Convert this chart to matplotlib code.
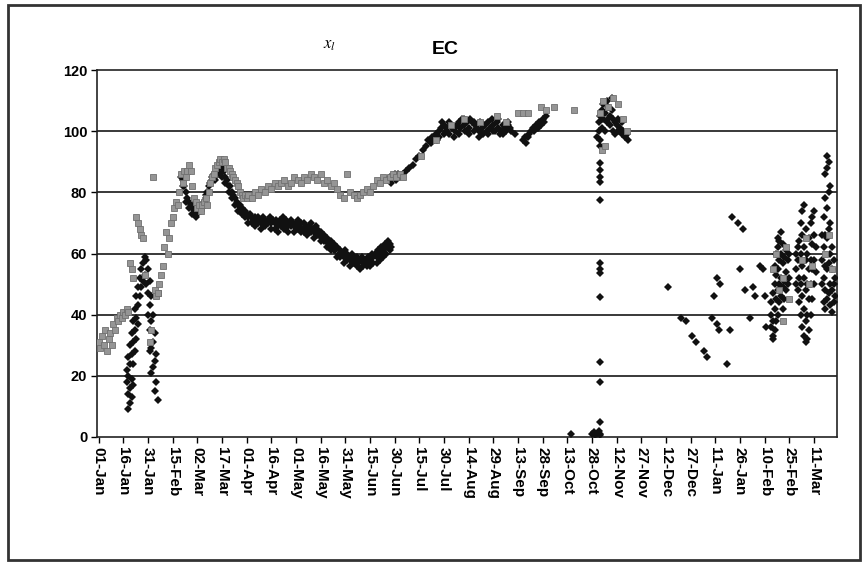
import matplotlib
matplotlib.use('Agg')
import matplotlib.pyplot as plt
from matplotlib.patches import Rectangle

plt.rcParams['font.family'] = ['Liberation Sans', 'DejaVu Sans']
plt.rcParams['mathtext.fontset'] = 'stix'

# x values are days counted from 01-Jan
tick_labels = ['01-Jan', '16-Jan', '31-Jan', '15-Feb', '02-Mar', '17-Mar', '01-Apr',
               '16-Apr', '01-May', '16-May', '31-May', '15-Jun', '30-Jun', '15-Jul',
               '30-Jul', '14-Aug', '29-Aug', '13-Sep', '28-Sep', '13-Oct', '28-Oct',
               '12-Nov', '27-Nov', '12-Dec', '27-Dec', '11-Jan', '26-Jan', '10-Feb',
               '25-Feb', '11-Mar']
y_ticks = [0, 20, 40, 60, 80, 100, 120]

# black series
black_jan_day = [17, 17, 18, 18, 18, 18, 19, 19, 19, 19, 20, 20, 20, 20, 21, 21, 21, 21,
                 22, 22, 22, 23, 23, 23, 24, 24, 24, 25, 25, 26, 26, 27, 27, 28, 28, 29,
                 29, 30, 30, 30, 31, 31, 31, 31, 32, 32, 32, 32, 33, 33, 33, 34, 34, 34,
                 35, 35, 36]
black_jan_val = [22, 18, 26, 20, 14, 9, 30, 24, 16, 11, 34, 27, 19, 13, 38, 31, 24, 17,
                 42, 35, 28, 46, 39, 32, 49, 43, 37, 52, 46, 55, 49, 57, 51, 59, 53, 58,
                 50, 55, 47, 40, 51, 43, 35, 28, 46, 38, 29, 21, 40, 31, 23, 34, 25, 15,
                 27, 18, 12]

black_spring_start = 50
black_spring_val = [85, 84, 82, 80, 78, 77, 76, 75, 76,
                    74, 73, 75, 74, 76, 77, 78, 80,
                    82, 83, 84, 86, 85, 87, 88, 86, 88, 87,
                    85, 84, 82, 82, 80, 79, 78, 77, 76, 76,
                    75, 74, 74, 73, 72, 73, 72, 71, 72, 71,
                    72, 71, 70, 72, 71, 70, 71, 72, 70, 71,
                    70, 71, 69, 71, 70, 72, 70, 71, 69, 70,
                    71, 70, 69, 70, 71, 69, 70, 68, 70, 69,
                    68, 69, 70, 68, 67, 69, 68, 66, 67, 65,
                    66, 64, 65, 63, 64, 62, 63, 61, 62, 60,
                    61, 60, 59, 61, 60, 59, 58, 60, 59, 58,
                    59, 57, 58, 59, 57, 58, 57, 59, 58, 60,
                    59, 60, 59, 61, 60, 62, 61, 63, 62, 64, 63, 62]
# second, lower row of the black band (every other day from 51)
black_spring_b_val = [82, 77, 75, 73, 72, 74, 75, 79, 80, 85, 84, 89, 85, 83, 80, 78,
                      76, 74, 73, 72, 70, 70, 69, 70, 68, 69, 70, 68, 68, 67, 69, 68,
                      67, 69, 67, 68, 67, 67, 66, 67, 65, 66, 64, 64, 62, 61, 61, 59,
                      59, 57, 58, 56, 57, 56, 55, 56, 56, 56, 57, 57, 58, 59, 60, 61]

black_summer_day = [176, 177, 178, 179, 180, 181, 182, 183, 185, 187, 189, 191, 193, 195,
                    197, 199, 200, 202, 203, 205, 206, 207, 208, 209, 210, 211, 212, 213,
                    214, 215, 216, 217, 218, 219, 220, 221, 222, 223, 224, 225, 226, 227,
                    228, 229, 230, 231, 232, 233, 234, 235, 236, 237, 238, 239, 240, 241,
                    242, 243, 244, 245, 246, 247, 248, 249, 250, 251, 253, 258, 259, 260,
                    261, 262, 263, 264, 265, 266, 267, 268, 269, 270, 271, 272,
                    204, 207, 210, 213, 216, 219, 222, 225, 228, 231, 234, 237, 240, 243,
                    246, 249]
black_summer_val = [84, 85, 83, 85, 86, 84, 86, 85, 86, 87, 88, 89, 91, 92,
                    94, 95, 97, 96, 98, 99, 97, 100, 101, 103, 102, 100, 101, 99,
                    102, 101, 98, 100, 102, 103, 101, 104, 102, 100, 103, 101, 104, 103,
                    100, 102, 101, 100, 103, 101, 99, 102, 100, 103, 101, 104, 102, 100,
                    103, 101, 99, 100, 102, 101, 100, 102, 101, 100, 99, 97, 98, 96,
                    98, 99, 100, 101, 100, 102, 101, 103, 102, 104, 103, 105,
                    97, 98, 99, 103, 101, 99, 104, 99, 103, 98, 102, 99, 100, 104,
                    99, 103]

black_autumn_day = [287, 300, 301, 302, 303, 304, 305, 305,
                    305, 305, 305, 305, 305, 305, 305, 305, 305, 305, 305, 305, 305,
                    303, 304, 304, 305, 305, 306, 306, 307, 307, 308, 308, 309, 309,
                    310, 310, 311, 311, 312, 312, 313, 313, 314, 314, 315, 316, 316,
                    317, 318, 318, 319, 320, 321, 322]
black_autumn_val = [1, 1, 1.5, 0.5, 1, 2, 1, 0.5,
                    95, 89.6, 87.3, 85, 83.4, 77.5, 57, 55, 53.6, 45.8, 24.5, 18, 4.9,
                    98, 100, 103, 105, 97, 107, 101, 104, 109, 106, 100, 110, 103,
                    108, 104, 105, 102, 111, 107, 104, 100, 103, 99, 102, 104, 100,
                    101, 103, 99, 100, 98, 99, 97]

black_winter_day = [346, 354, 357, 361, 363, 368, 370, 373, 376, 377, 374, 376, 378, 382,
                    384, 385, 389, 392, 390, 393, 396, 398, 399, 402, 404, 405, 406, 410,
                    409, 409, 409, 410, 410, 410, 411, 411, 411, 411, 412, 412, 412, 412,
                    413, 413, 413, 413, 413, 414, 414, 414, 414, 415, 415, 415, 415, 416,
                    416, 416, 416, 417, 417, 417, 418, 418, 418, 419, 419, 420, 420,
                    424, 424, 424, 425, 425, 425, 426, 426, 426, 427, 427, 427, 427, 428,
                    428, 428, 428, 428, 429, 429, 429, 429, 429, 430, 430, 430, 430, 430,
                    431, 431, 431, 431, 432, 432, 432, 432, 433, 433, 433, 433, 434, 434,
                    434, 434, 435, 435, 435, 435, 436, 436,
                    440, 440, 440, 441, 441, 441, 441, 442, 442, 442, 442, 442, 442, 443,
                    443, 443, 443, 443, 443, 444, 444, 444, 444, 444, 445, 445, 445, 445,
                    445, 446, 446, 446, 446, 447, 447, 447, 448, 448]
black_winter_val = [49, 39, 38, 33, 31, 28, 26, 39, 37, 35, 46, 52, 50, 24,
                    35, 72, 70, 68, 55, 48, 39, 49, 46, 56, 55, 46, 36, 32,
                    36, 40, 44, 33, 38, 47, 35, 42, 50, 56, 38, 45, 53, 60,
                    40, 48, 55, 62, 65, 44, 50, 58, 64, 46, 52, 60, 67, 42,
                    49, 57, 63, 45, 51, 59, 48, 54, 61, 50, 58, 52, 60,
                    55, 60, 50, 48, 58, 62, 44, 52, 64, 40, 50, 60, 70, 36,
                    46, 56, 66, 74, 33, 42, 52, 62, 76, 31, 38, 48, 58, 68,
                    32, 40, 50, 60, 35, 45, 55, 65, 40, 50, 58, 70, 45, 55,
                    63, 72, 50, 58, 66, 74, 54, 62,
                    50, 58, 66, 44, 52, 62, 72, 42, 48, 56, 66, 78, 86, 45,
                    55, 65, 75, 88, 92, 47, 57, 68, 80, 90, 43, 50, 60, 70,
                    82, 41, 48, 55, 62, 44, 50, 58, 46, 52]

# gray series
gray_early_day = [0, 1, 2, 3, 4, 5, 6, 7, 8, 9, 10, 11, 12, 13, 14, 15, 16, 17, 18,
                  19, 20, 21, 23, 24, 25, 26, 27, 28, 31, 32, 33, 36]
gray_early_val = [31, 29, 33, 30, 35, 28, 32, 34, 30, 37, 35, 39, 38, 40, 39, 41, 40, 42, 41,
                  57, 55, 52, 72, 70, 68, 66, 65, 53, 31, 35, 85, 47]

gray_spring_start = 34
gray_spring_val = [48, 46, 47, 50, 53, 56, 62, 67, 60, 65, 70, 72, 75, 77, 76, 80, 86,
                   83, 87, 85, 87, 89, 87, 82, 78, 77, 75, 76, 74, 76, 77, 78, 76, 80, 83,
                   85, 86, 88, 89, 90, 91, 90, 91, 90, 88, 88, 87, 86, 85, 84, 83, 82, 80,
                   79, 78, 79, 78]

gray_summer_day = [91, 93, 95, 97, 99, 101, 103, 105, 107, 109, 111, 113, 115, 117, 119,
                   121, 123, 125, 127, 129, 131, 133, 135, 137, 139, 141, 143, 145, 147,
                   149, 151, 153, 155, 157, 159, 161, 163, 165, 167, 169, 171, 173, 175,
                   177, 179, 181, 183, 185, 196, 205, 214, 222, 232, 242, 248, 255, 258,
                   261, 269, 272, 277, 289]
gray_summer_val = [79, 78, 80, 79, 81, 80, 82, 81, 83, 82, 83, 84, 82, 83, 85,
                   84, 83, 85, 84, 86, 85, 84, 86, 83, 84, 82, 83, 81, 79,
                   78, 86, 80, 79, 78, 79, 80, 81, 80, 82, 84, 83, 85, 84,
                   85, 86, 85, 86, 85, 92, 97, 102, 104, 103, 105, 103, 106, 106,
                   106, 108, 107, 108, 107]

gray_late_day = [305, 306, 307, 308, 310, 313, 316, 319, 321,
                 410, 412, 414, 416, 416, 418, 420, 428, 430, 432, 434, 442, 444, 446]
gray_late_val = [106, 94, 110, 95, 108, 111, 109, 104, 100,
                 55, 60, 48, 52, 38, 62, 45, 58, 65, 50, 56, 60, 66, 55]

black_day = (black_jan_day
             + list(range(black_spring_start, black_spring_start + len(black_spring_val)))
             + list(range(black_spring_start + 1, black_spring_start + 1 + 2 * len(black_spring_b_val), 2))
             + black_summer_day + black_autumn_day + black_winter_day)
black_val = (black_jan_val + black_spring_val + black_spring_b_val + black_summer_val
             + black_autumn_val + black_winter_val)
gray_day = (gray_early_day
            + list(range(gray_spring_start, gray_spring_start + len(gray_spring_val)))
            + gray_summer_day + gray_late_day)
gray_val = gray_early_val + gray_spring_val + gray_summer_val + gray_late_val

fig = plt.figure(figsize=(8.64, 5.64), dpi=100)
ax = fig.add_axes([97 / 864, 1 - 437 / 564, (837 - 97) / 864, (437 - 70) / 564])

ax.plot(black_day, black_val, linestyle='none', marker='D', markersize=4.4,
        color='#111111', markeredgewidth=0, zorder=3)
ax.plot(gray_day, gray_val, linestyle='none', marker='s', markersize=4.4,
        color='#959595', markeredgecolor='#707070', markeredgewidth=0.6, zorder=4)

ax.set_xlim(-1, 449)
ax.set_ylim(0, 120)
ax.set_yticks(y_ticks)
ax.set_yticklabels([str(v) for v in y_ticks], fontsize=10.5, fontweight='bold')
ax.set_xticks([15 * i for i in range(len(tick_labels))])
ax.set_xticklabels(tick_labels, rotation=270, fontsize=11, fontweight='bold')
ax.tick_params(axis='both', direction='out', length=4, width=1, pad=3)
for y in y_ticks[1:-1]:
    ax.axhline(y, color='#2a2a2a', linewidth=1.3, zorder=1)
for s in ax.spines.values():
    s.set_linewidth(1.2)
    s.set_color('#222222')

fig.text(330 / 864, 1 - 45 / 564, r'$x_l$', fontsize=12, ha='center', va='center')
fig.text(445 / 864, 1 - 50 / 564, 'EC', fontsize=14, fontweight='bold', ha='center', va='center')

fig.patches.append(Rectangle((8 / 864, 4 / 564), 852 / 864, 555 / 564, transform=fig.transFigure,
                             fill=False, edgecolor='#333333', linewidth=2))

fig.savefig('out.png', dpi=100)
